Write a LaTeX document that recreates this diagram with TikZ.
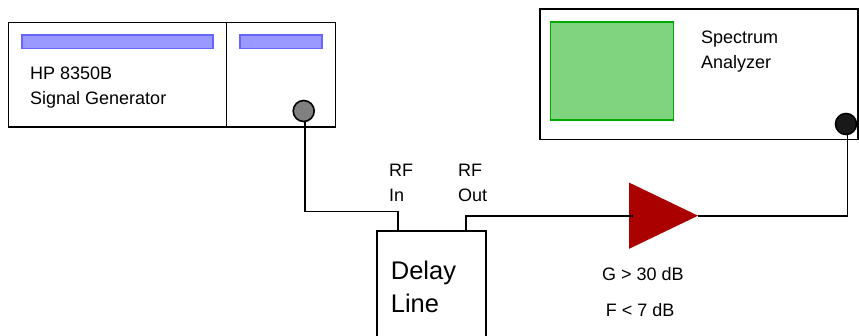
\documentclass[tikz,border=0pt]{standalone}
\usepackage{fontspec}
\setmainfont{Liberation Sans}
\usetikzlibrary{positioning,shapes.geometric}
\definecolor{barblue}{HTML}{9999FF}
\definecolor{barline}{HTML}{6666FF}
\definecolor{screengreen}{HTML}{80D480}
\definecolor{screenline}{HTML}{00AA00}
\definecolor{ampred}{HTML}{AA0000}
\tikzset{
	chassis/.style={draw,line width=1.6pt,rectangle,inner sep=0pt,outer sep=0pt,anchor=north west},
	bar/.style={draw=barline,fill=barblue,line width=1.2pt,rectangle,inner sep=0pt,outer sep=0pt,anchor=north west,minimum height=13.5pt},
	knob/.style={draw,line width=1.6pt,circle,inner sep=0pt,outer sep=0pt,minimum size=21pt},
	lbl/.style={inner sep=0pt,anchor=base west,align=left,font=\fontsize{18}{25}\selectfont},
	wire/.style={line width=1.6pt}
}
\begin{document}
\begin{tikzpicture}[x=1pt,y=-1pt]
	\useasboundingbox (0,0) rectangle (859,335);
	% signal generator
	\node[chassis,minimum width=327pt,minimum height=104.5pt] (gen) at (8.5,22.5) {};
	\coordinate (divtop) at (226.5,22.5);
	\draw[wire] (divtop) -- (divtop |- gen.south);
	\node[bar,minimum width=191pt] (bar_l) at (22,35) {};
	\node[bar,minimum width=82pt] (bar_r) at (240,35) {};
	\node[knob,fill=black!50] (gen_knob) at (303.7,111) {};
	\node[lbl] (gen_txt) at (30,104) {HP 8350B\\Signal Generator};
	% spectrum analyzer
	\node[chassis,minimum width=318pt,minimum height=130.5pt] (sa) at (540,9) {};
	\node[draw=screenline,fill=screengreen,line width=1.2pt,rectangle,inner sep=0pt,outer sep=0pt,anchor=north west,minimum width=123.5pt,minimum height=98pt] (screen) at (550.3,22) {};
	\node[knob,fill=black!90] (sa_knob) at (846,124) {};
	\node[lbl] (sa_txt) at (701,68) {Spectrum\\Analyzer};
	% delay line, runs off the bottom of the page
	\node[chassis,minimum width=109pt,minimum height=120pt] (delay) at (376.7,231) {};
	\node[lbl,font=\fontsize{25.5}{33}\selectfont] (delay_txt) at (390.7,312) {Delay\\Line};
	\node[lbl] (rf_in) at (389,201) {RF\\In};
	\node[lbl] (rf_out) at (458,201) {RF\\Out};
	% amplifier
	\node[isosceles triangle,isosceles triangle stretches,fill=ampred,inner sep=0pt,outer sep=0pt,minimum width=66.3pt,minimum height=69pt,anchor=lower side] (amp) at (629,215.7) {};
	\node[lbl] (gain) at (602,280) {G > 30 dB};
	\node[lbl] (noise) at (605.7,316) {F < 7 dB};
	% wiring
	\coordinate (gen_port) at (305.2,122);
	\coordinate (in_bend) at (397.7,211.3);
	\coordinate (in_port) at (397.7,231);
	\coordinate (out_port) at (465.7,231);
	\coordinate (amp_in) at (633,215.7);
	\coordinate (sa_port) at (847.5,135);
	\draw[wire] (gen_port) |- (in_bend) -- (in_port);
	\draw[wire] (out_port) |- (amp_in);
	\draw[wire] (amp.apex) -| (sa_port);
\end{tikzpicture}
\end{document}
